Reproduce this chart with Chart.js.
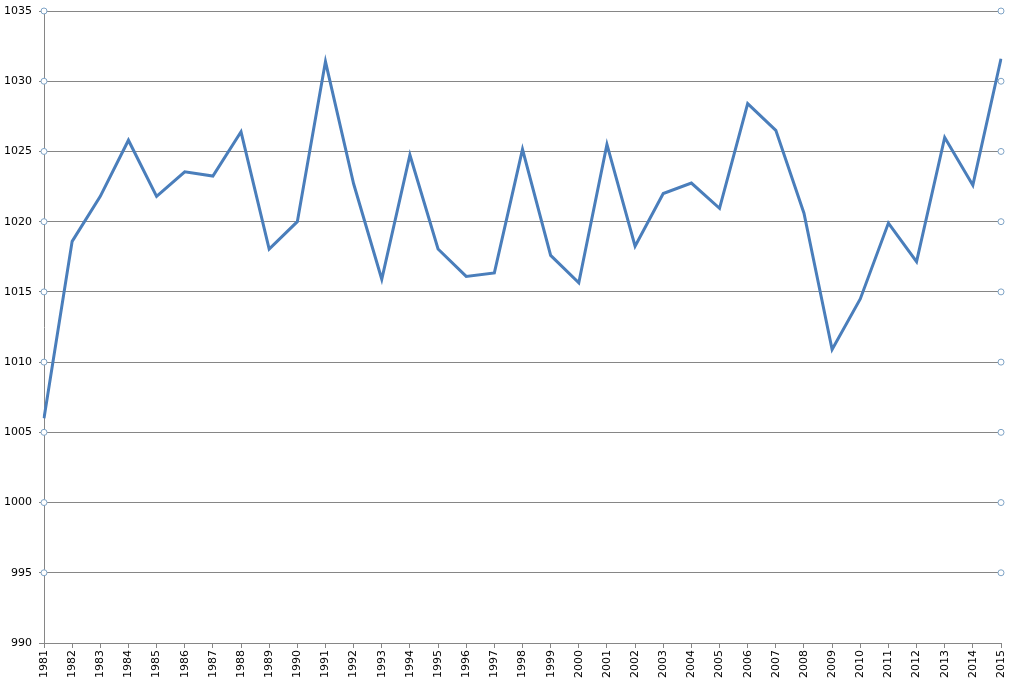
<!DOCTYPE html>
<html>
<head>
<meta charset="utf-8">
<script src="https://cdn.jsdelivr.net/npm/chart.js@4"></script>
<style>
  html, body { margin: 0; padding: 0; background: #fff; }
  #wrap { width: 1020px; height: 685px; position: relative; }
</style>
</head>
<body>
<div id="wrap"><canvas id="chart"></canvas></div>
<script>
const years = ['1981','1982','1983','1984','1985','1986','1987','1988','1989','1990',
  '1991','1992','1993','1994','1995','1996','1997','1998','1999','2000',
  '2001','2002','2003','2004','2005','2006','2007','2008','2009','2010',
  '2011','2012','2013','2014','2015'];
const values = [1006.0, 1018.6, 1021.8, 1025.8, 1021.8, 1023.55, 1023.25, 1026.4, 1018.05, 1020.0,
  1031.4, 1022.7, 1015.9, 1024.75, 1018.05, 1016.1, 1016.35, 1025.15, 1017.6, 1015.65,
  1025.5, 1018.25, 1022.0, 1022.75, 1020.95, 1028.4, 1026.5, 1020.6, 1010.9, 1014.5,
  1019.9, 1017.15, 1026.0, 1022.6, 1031.6];
const yMin = 990, yMax = 1035, yStep = 5;

// little circles at both ends of each gridline (except the bottom one)
const endMarkers = {
    id: 'endMarkers',
    afterDatasetsDraw(chart) {
        const { ctx, chartArea, scales } = chart;
        ctx.save();
        ctx.lineWidth = 1;
        ctx.strokeStyle = '#7ea3c6';
        ctx.fillStyle = '#ffffff';
        scales.y.ticks.forEach(t => {
            if (t.value === yMin) return;
            const y = scales.y.getPixelForValue(t.value);
            [chartArea.left, chartArea.right].forEach(x => {
                ctx.beginPath();
                ctx.arc(x, y, 3, 0, Math.PI * 2);
                ctx.fill();
                ctx.stroke();
            });
        });
        ctx.restore();
    }
};

new Chart(document.getElementById('chart'), {
    type: 'line',
    data: {
        labels: years,
        datasets: [{
            data: values,
            borderColor: '#4a7ebb',
            borderWidth: 3,
            pointRadius: 0,
            tension: 0,
            fill: false
        }]
    },
    options: {
        responsive: true,
        maintainAspectRatio: false,
        animation: false,
        layout: { padding: { top: 0, right: 19, left: 0, bottom: 0 } },
        plugins: { legend: { display: false }, tooltip: { enabled: false } },
        scales: {
            x: {
                offset: false,
                grid: { display: true, drawOnChartArea: false, drawTicks: true, tickLength: 5, color: '#868686' },
                border: { display: true, color: '#868686', width: 1 },
                ticks: {
                    autoSkip: false, maxRotation: 90, minRotation: 90, padding: 2,
                    color: '#000', font: { family: 'DejaVu Sans', size: 11 }
                },
                afterFit(scale) { scale.height = 42; scale.paddingRight = 0; scale.paddingLeft = 0; }
            },
            y: {
                min: yMin, max: yMax,
                grid: { color: '#868686', lineWidth: 1, tickLength: 5 },
                border: { display: true, color: '#868686', width: 1 },
                ticks: {
                    stepSize: yStep, padding: 7,
                    color: '#000', font: { family: 'DejaVu Sans', size: 11 },
                    callback: v => String(v)
                },
                afterFit(scale) { scale.width = 44; scale.paddingTop = 11; scale.paddingBottom = 0; }
            }
        }
    },
    plugins: [endMarkers]
});
</script>
</body>
</html>
